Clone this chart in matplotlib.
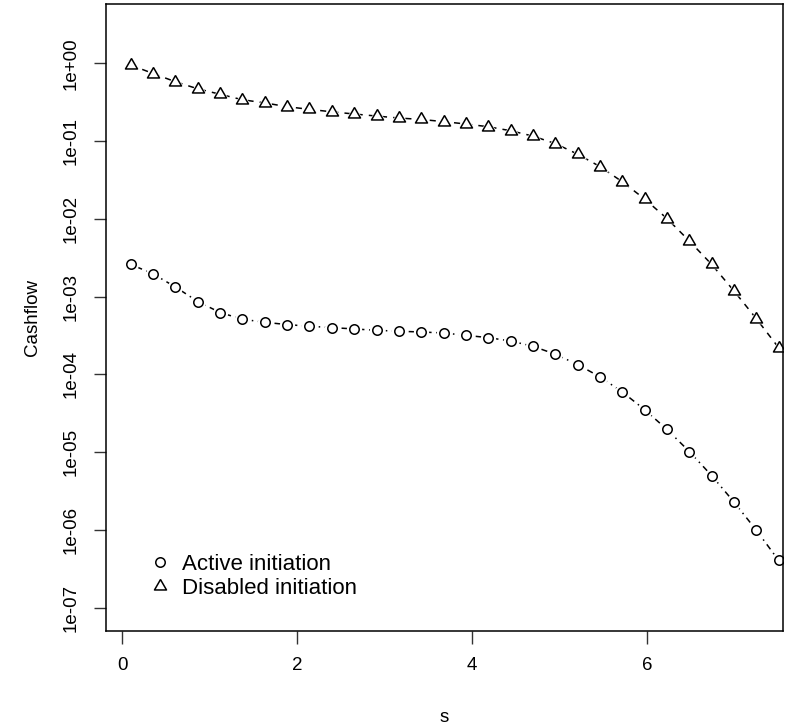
import numpy as np
import matplotlib
matplotlib.use('Agg')
import matplotlib.pyplot as plt
from matplotlib.lines import Line2D

plt.rcParams['font.family'] = ['Liberation Sans', 'DejaVu Sans']

# values
s = [0.1, 0.355, 0.61, 0.866, 1.121, 1.376, 1.631, 1.886, 2.141, 2.397,
     2.652, 2.907, 3.162, 3.417, 3.672, 3.928, 4.183, 4.438, 4.693, 4.948,
     5.203, 5.459, 5.714, 5.969, 6.224, 6.479, 6.734, 6.99, 7.245, 7.5]
active = [2.6e-3, 1.96e-3, 1.33e-3, 8.65e-4, 6.24e-4, 5.12e-4, 4.68e-4, 4.37e-4,
          4.16e-4, 4.0e-4, 3.84e-4, 3.69e-4, 3.59e-4, 3.51e-4, 3.41e-4, 3.18e-4,
          2.97e-4, 2.69e-4, 2.3e-4, 1.82e-4, 1.34e-4, 9.3e-5, 5.94e-5, 3.52e-5,
          1.96e-5, 1.02e-5, 5.0e-6, 2.28e-6, 9.9e-7, 4.05e-7]
disabled = [0.95, 0.74, 0.58, 0.47, 0.40, 0.34, 0.31, 0.277, 0.256, 0.238,
            0.223, 0.21, 0.198, 0.19, 0.178, 0.166, 0.153, 0.136, 0.116, 0.093,
            0.068, 0.047, 0.030, 0.018, 0.0101, 0.0052, 0.0026, 0.00118, 5.2e-4, 2.2e-4]
yticks = [1e0, 1e-1, 1e-2, 1e-3, 1e-4, 1e-5, 1e-6, 1e-7]
ytick_labels = ['1e+00', '1e-01', '1e-02', '1e-03', '1e-04', '1e-05', '1e-06', '1e-07']
xticks = [0, 2, 4, 6]

# R style triangle (pch = 2)
tri = [(0, 1), (-0.866, -0.5), (0.866, -0.5), (0, 1)]

fig = plt.figure(figsize=(7.95, 7.28), dpi=100)
ax = fig.add_axes([0.133, 0.1332, 0.852, 0.8613])

lw = 1.1
# lines first, then white discs to make the gaps of type="b", then open symbols
ax.plot(s, active, color='black', lw=lw, dashes=(1, 3, 4, 3), zorder=1)
ax.plot(s, disabled, color='black', lw=lw, dashes=(4, 4), zorder=1)
ax.plot(s, active, ls='none', marker='o', ms=11, mfc='white', mec='none', zorder=2)
ax.plot(s, disabled, ls='none', marker=tri, ms=14, mfc='white', mec='none', zorder=2)
ax.plot(s, active, ls='none', marker='o', ms=6.8, mfc='none', mec='black', mew=lw, zorder=3)
ax.plot(s, disabled, ls='none', marker=tri, ms=10, mfc='none', mec='black', mew=lw, zorder=3)

ax.set_yscale('log')
ax.set_xlim(-0.186, 7.55)
ax.set_ylim(10 ** -7.3, 10 ** 0.763)
ax.set_xticks(xticks)
ax.set_xticklabels([str(t) for t in xticks])
ax.set_yticks(yticks)
ax.set_yticklabels(ytick_labels, rotation=90, va='center')
ax.minorticks_off()
ax.tick_params(direction='out', length=9, width=1, labelsize=13.5, pad=10, color='#333333')
for sp in ax.spines.values():
    sp.set_linewidth(1.1)
    sp.set_color('black')

ax.set_xlabel('s', fontsize=13.5)
ax.xaxis.set_label_coords(0.5, -0.124)
ax.set_ylabel('Cashflow', fontsize=13.5)
ax.yaxis.set_label_coords(-0.096, 0.5)

handles = [Line2D([], [], ls='none', marker='o', ms=6.8, mfc='none', mec='black', mew=lw),
           Line2D([], [], ls='none', marker=tri, ms=10, mfc='none', mec='black', mew=lw)]
ax.legend(handles, ['Active initiation', 'Disabled initiation'], loc='lower left',
          bbox_to_anchor=(0.041, 0.026), frameon=False, fontsize=16, handlelength=1.0,
          handletextpad=0.5, labelspacing=0.15, borderpad=0.2)

fig.savefig('out.png', dpi=100)
